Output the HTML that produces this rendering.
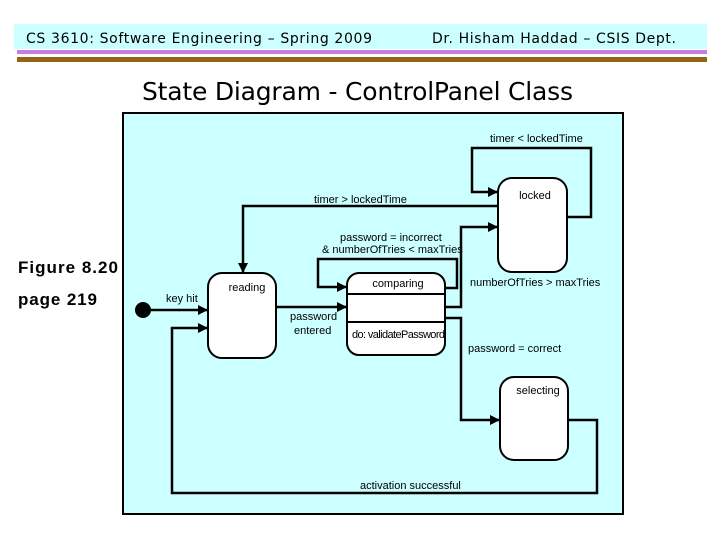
<!DOCTYPE html>
<html><head><meta charset="utf-8"><style>
html,body{margin:0;padding:0;background:#fff;width:720px;height:540px;overflow:hidden}
svg{display:block}
.d{font-family:"DejaVu Sans","Liberation Sans",sans-serif}
.f{font-family:"Liberation Sans",sans-serif;font-weight:bold;font-size:17px}
.l{font-family:"Liberation Sans",sans-serif;font-size:11px;fill:#000}
</style></head><body>
<svg width="720" height="540" viewBox="0 0 720 540" xmlns="http://www.w3.org/2000/svg">
<defs><marker id="a" viewBox="0 0 10 10" refX="10" refY="5" markerWidth="4" markerHeight="4" orient="auto" markerUnits="strokeWidth"><path d="M0,0L10,5L0,10z" fill="#000"/></marker></defs>
<rect x="14" y="24" width="693" height="25" fill="#ccffff"/>
<rect x="17" y="50" width="690" height="4" fill="#c77fdf"/>
<rect x="17" y="57" width="690" height="5" fill="#946414"/>
<text class="d" x="26" y="43" font-size="14" textLength="346">CS 3610: Software Engineering – Spring 2009</text>
<text class="d" x="432" y="43" font-size="14" textLength="244">Dr. Hisham Haddad – CSIS Dept.</text>
<text class="d" x="142" y="100" font-size="25" textLength="431">State Diagram - ControlPanel Class</text>
<text class="f" x="18" y="273" textLength="100">Figure 8.20</text>
<text class="f" x="18" y="305" textLength="79">page 219</text>
<rect x="123" y="113" width="500" height="401" fill="#ccffff" stroke="#000" stroke-width="2"/>
<g fill="#fff" stroke="#000" stroke-width="2">
<rect x="498" y="178" width="69" height="94" rx="14"/>
<rect x="208" y="273" width="68" height="85" rx="14"/>
<rect x="347" y="273" width="98" height="82" rx="12"/>
<rect x="500" y="377" width="68" height="83" rx="14"/>
</g>
<g stroke="#000" stroke-width="2"><line x1="347" y1="294" x2="445" y2="294"/><line x1="347" y1="322" x2="445" y2="322"/></g>
<circle cx="143" cy="310" r="8" fill="#000"/>
<g fill="none" stroke="#000" stroke-width="2.5">
<path d="M568 420H597V493H172V328"/>
</g>
<g fill="none" stroke="#000" stroke-width="2.5" marker-end="url(#a)">
<path d="M151 310H208"/>
<path d="M172 329V328H208"/>
<path d="M276 307H347"/>
<path d="M445 288H457V259H318V287H347"/>
<path d="M445 307H461V227H498"/>
<path d="M445 318H461V420H500"/>
<path d="M498 206H243V273"/>
<path d="M567 217H591V148H472V192H498"/>
</g>
<text class="l" x="490" y="142">timer &lt; lockedTime</text>
<text class="l" x="314" y="203">timer &gt; lockedTime</text>
<text class="l" x="340" y="241">password = incorrect</text>
<text class="l" x="322" y="253">&amp; numberOfTries &lt; maxTries</text>
<text class="l" x="535" y="199" text-anchor="middle">locked</text>
<text class="l" x="247" y="291" text-anchor="middle">reading</text>
<text class="l" x="398" y="287" text-anchor="middle">comparing</text>
<text class="l" x="166" y="302">key hit</text>
<text class="l" x="290" y="320">password</text>
<text class="l" x="294" y="334">entered</text>
<text class="l" x="352" y="338" textLength="93">do: validatePassword</text>
<text class="l" x="470" y="286">numberOfTries &gt; maxTries</text>
<text class="l" x="468" y="352">password = correct</text>
<text class="l" x="538" y="394" text-anchor="middle">selecting</text>
<text class="l" x="360" y="489">activation successful</text>
</svg>
</body></html>
